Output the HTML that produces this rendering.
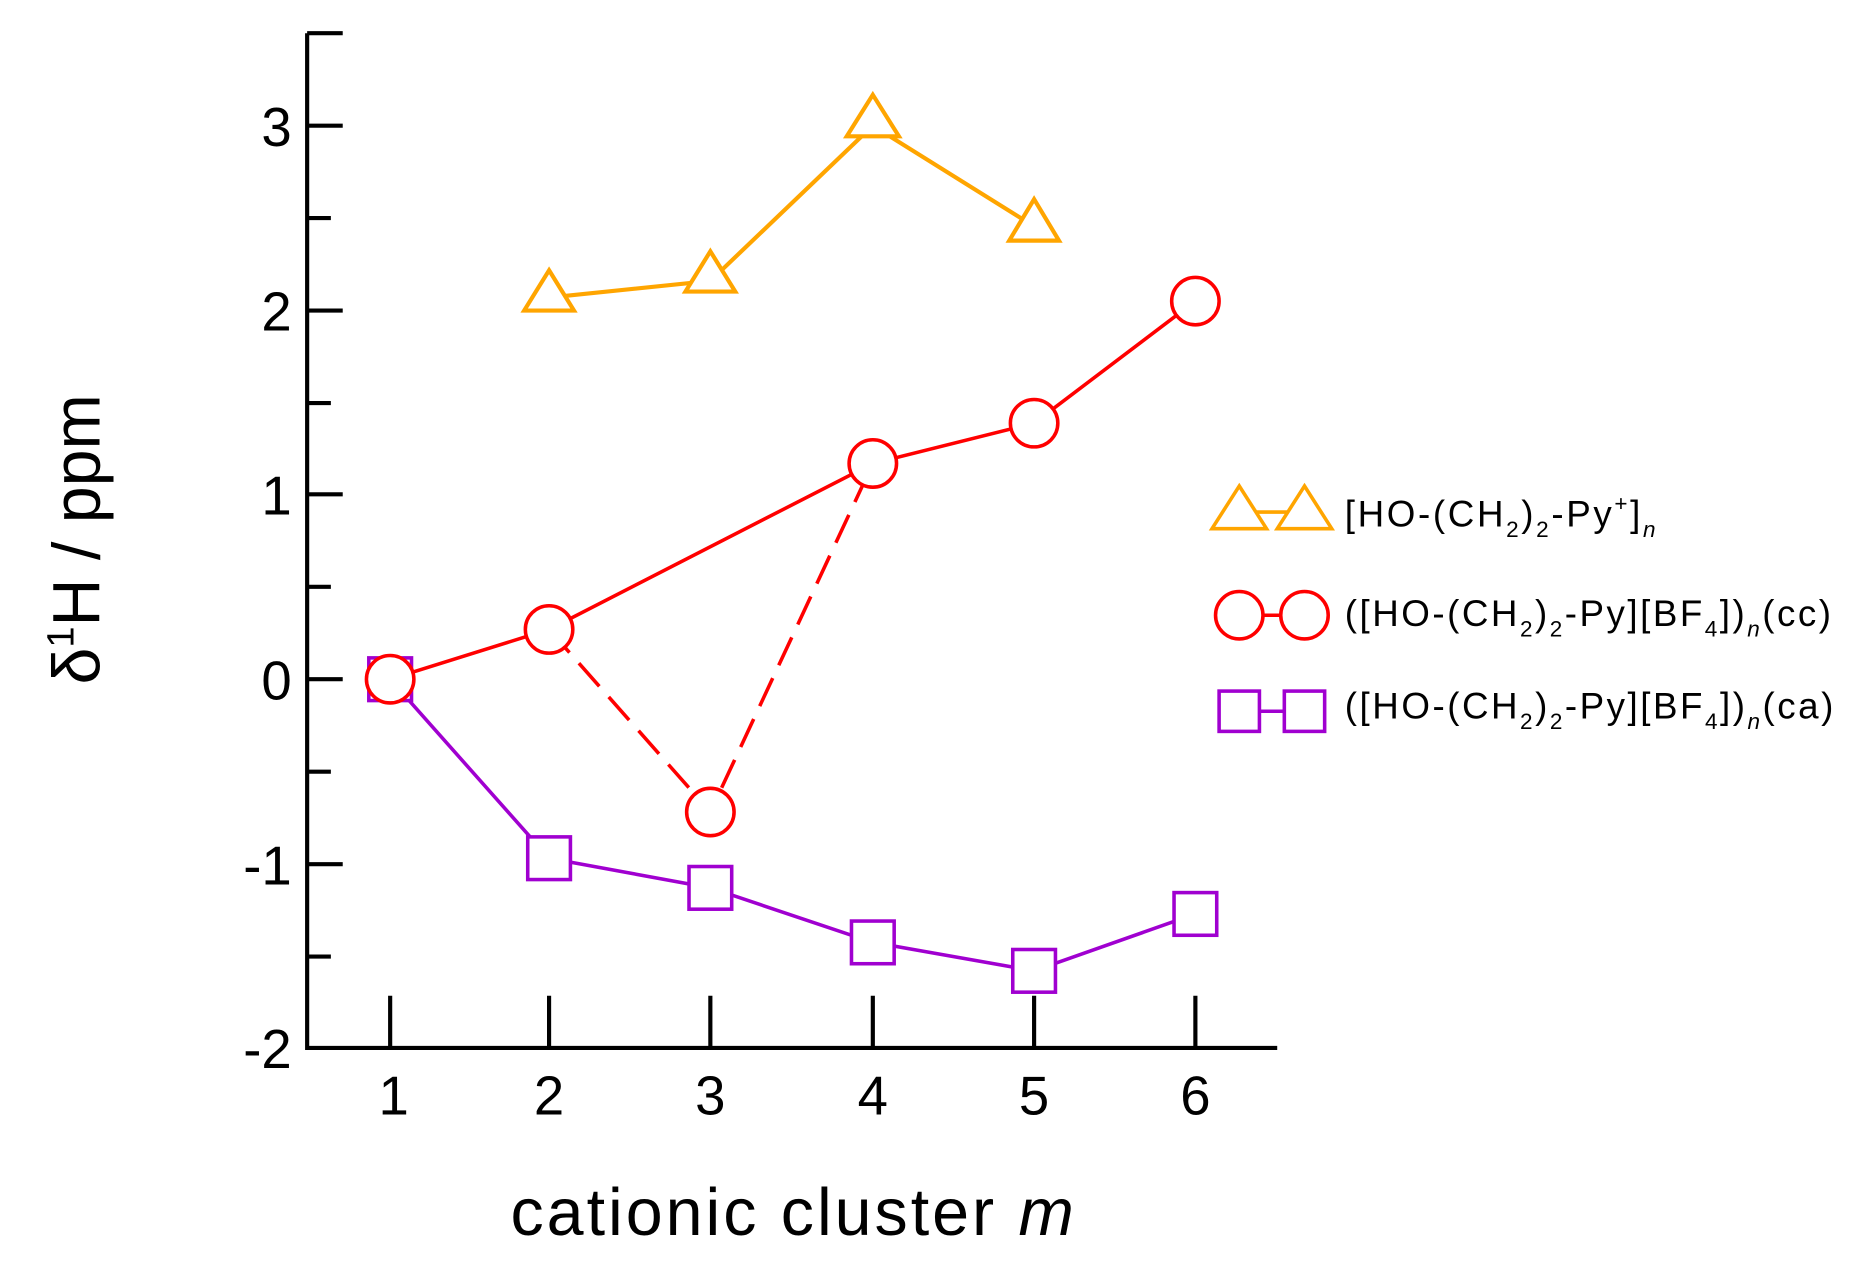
<!DOCTYPE html>
<html><head><style>html,body{margin:0;padding:0;background:#fff}svg{display:block}</style></head><body>
<svg width="1850" height="1266" viewBox="0 0 1560 1068" preserveAspectRatio="none" xmlns="http://www.w3.org/2000/svg" font-family="Liberation Sans, sans-serif">
<g stroke="#000" stroke-width="3.5" fill="none">
<path d="M259 28 V884 H1077"/>
<path d="M259 28h30 M259 106h30 M259 184h20 M259 262h30 M259 340h20 M259 417h30 M259 495h20 M259 573h30 M259 651h20 M259 729h30 M259 807h20"/>
<path d="M329 884v-44 M463 884v-44 M599 884v-44 M736 884v-44 M872 884v-44 M1008 884v-44"/>
</g>
<g font-size="46" text-anchor="end" fill="#000">
<text x="246" y="123">3</text><text x="246" y="279">2</text><text x="246" y="434">1</text><text x="246" y="590">0</text><text x="246" y="746">-1</text><text x="246" y="901">-2</text>
</g>
<g font-size="46" text-anchor="middle" fill="#000">
<text x="332" y="940">1</text><text x="463" y="940">2</text><text x="599" y="940">3</text><text x="736" y="940">4</text><text x="872" y="940">5</text><text x="1008" y="940">6</text>
</g>
<text x="668" y="1042" font-size="56" text-anchor="middle" textLength="475">cationic cluster <tspan font-style="italic">m</tspan></text>
<text transform="translate(84 455) rotate(-90)" font-size="56" text-anchor="middle">δ<tspan font-size="32" dy="-22">1</tspan><tspan dy="22">H / ppm</tspan></text>
<!-- purple -->
<g stroke="#a000d0" stroke-width="3" fill="none">
<polyline points="329,573 463,724 599,749 736,795 872,819 1008,771"/>
<rect x="311" y="555" width="36" height="36" fill="#fff"/>
<rect x="445" y="706" width="36" height="36" fill="#fff"/>
<rect x="581" y="731" width="36" height="36" fill="#fff"/>
<rect x="718" y="777" width="36" height="36" fill="#fff"/>
<rect x="854" y="801" width="36" height="36" fill="#fff"/>
<rect x="990" y="753" width="36" height="36" fill="#fff"/>
</g>
<!-- red -->
<g stroke="#f00" stroke-width="3" fill="none">
<polyline points="329,573 463,531 736,391 872,357 1008,254"/>
<polyline points="463,531 599,685 736,391" stroke-dasharray="26,12"/>
<g fill="#fff">
<circle cx="329" cy="573" r="20"/><circle cx="463" cy="531" r="20"/><circle cx="599" cy="685" r="20"/>
<circle cx="736" cy="391" r="20"/><circle cx="872" cy="357" r="20"/><circle cx="1008" cy="254" r="20"/>
</g>
</g>
<!-- orange -->
<g stroke="#ffa500" stroke-width="3.5" fill="none">
<polyline points="463,251 599,237 736,106 872,191"/>
<g fill="#fff">
<path d="M463 228 L484 262 L442 262Z"/><path d="M599 212 L620 246 L578 246Z"/>
<path d="M736 80 L758 115 L714 115Z"/><path d="M872 168 L893 203 L851 203Z"/>
</g>
</g>
<!-- legend -->
<g stroke-width="3" fill="none">
<g stroke="#ffa500"><path d="M1045 432 H1100"/><path d="M1045 410 L1068 446 L1022 446Z" fill="#fff"/><path d="M1100 410 L1123 446 L1077 446Z" fill="#fff"/></g>
<g stroke="#f00"><path d="M1045 519 H1100"/><circle cx="1045" cy="519" r="20" fill="#fff"/><circle cx="1100" cy="519" r="20" fill="#fff"/></g>
<g stroke="#a000d0"><path d="M1045 600 H1100"/><rect x="1028" y="583" width="34" height="34" fill="#fff"/><rect x="1083" y="583" width="34" height="34" fill="#fff"/></g>
</g>
<g font-size="31" fill="#000">
<text x="1134" y="444" textLength="262">[HO-(CH<tspan font-size="19" dy="9">2</tspan><tspan dy="-9">)</tspan><tspan font-size="19" dy="9">2</tspan><tspan dy="-9">-Py</tspan><tspan font-size="19" dy="-13">+</tspan><tspan dy="13">]</tspan><tspan font-size="19" font-style="italic" dy="9">n</tspan></text>
<text x="1134" y="528" textLength="410">([HO-(CH<tspan font-size="19" dy="9">2</tspan><tspan dy="-9">)</tspan><tspan font-size="19" dy="9">2</tspan><tspan dy="-9">-Py][BF</tspan><tspan font-size="19" dy="9">4</tspan><tspan dy="-9">])</tspan><tspan font-size="19" font-style="italic" dy="9">n</tspan><tspan dy="-9">(cc)</tspan></text>
<text x="1134" y="606" textLength="412">([HO-(CH<tspan font-size="19" dy="9">2</tspan><tspan dy="-9">)</tspan><tspan font-size="19" dy="9">2</tspan><tspan dy="-9">-Py][BF</tspan><tspan font-size="19" dy="9">4</tspan><tspan dy="-9">])</tspan><tspan font-size="19" font-style="italic" dy="9">n</tspan><tspan dy="-9">(ca)</tspan></text>
</g>
</svg>
</body></html>
